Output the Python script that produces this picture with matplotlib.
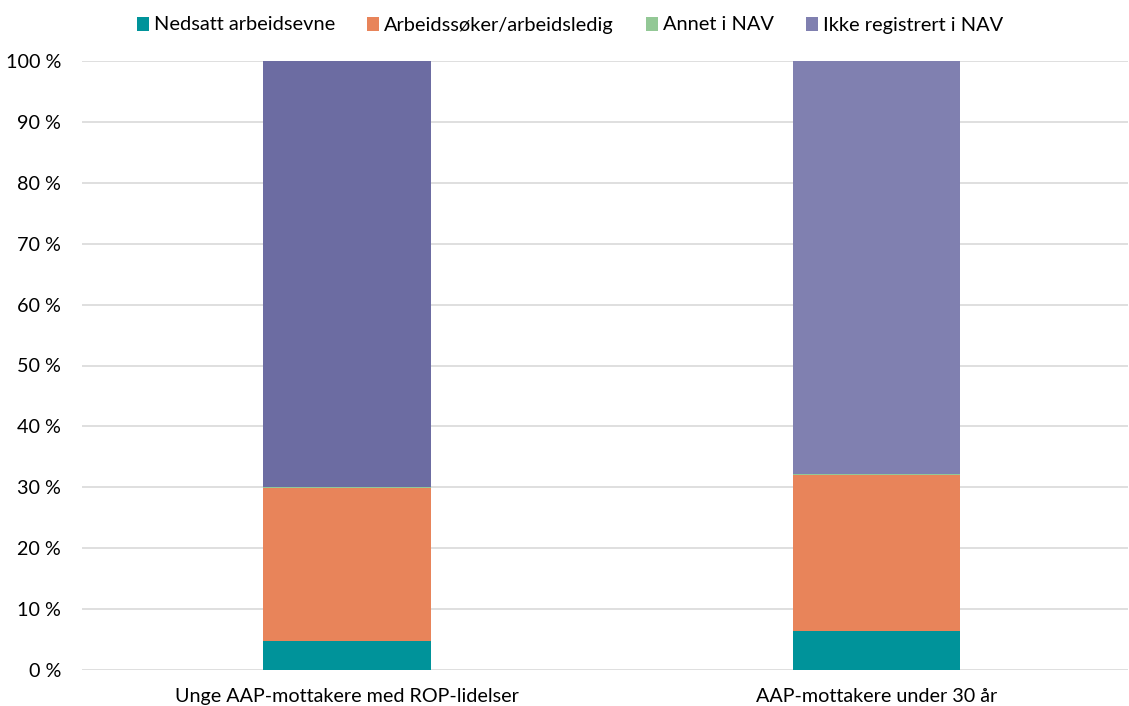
import matplotlib
matplotlib.use("Agg")
import matplotlib.pyplot as plt
import numpy as np

categories = ["Unge AAP-mottakere med ROP-lidelser", "AAP-mottakere under 30 år"]
series_names = ["Nedsatt arbeidsevne", "Arbeidssøker/arbeidsledig", "Annet i NAV", "Ikke registrert i NAV"]
nedsatt = [4.7, 6.4]
arbeidssoker = [25.2, 25.6]
annet = [0.2, 0.25]
ikke_reg = [69.9, 67.75]
yticks = [0, 10, 20, 30, 40, 50, 60, 70, 80, 90, 100]

colors = ["#00939A", "#E8845A", "#93C896", "#8080B0"]
ikke_bar_colors = ["#6C6CA2", "#8080B0"]

plt.rcParams['font.family'] = ['Lato', 'DejaVu Sans']

fig = plt.figure(figsize=(11.29, 7.06), dpi=100)
ax = fig.add_axes([82/1129, 36/706, (1128-82)/1129, (670-61)/706])

x = np.arange(len(categories))
w = 0.316
bottom = np.zeros(len(categories))
data = [nedsatt, arbeidssoker, annet, ikke_reg]
for i, (name, vals) in enumerate(zip(series_names, data)):
    c = ikke_bar_colors if i == 3 else colors[i]
    ax.bar(x, vals, w, bottom=bottom, color=c, label=name, zorder=3, linewidth=0)
    bottom += np.array(vals)

ax.set_xlim(-0.501, 1.476)
ax.set_ylim(0, 100)
ax.set_yticks(yticks)
ax.set_yticklabels([f"{v} %" for v in yticks])
ax.set_xticks(x)
ax.set_xticklabels(categories)
ax.tick_params(axis='both', length=0, labelsize=14.2, colors="#000000")
ax.tick_params(axis='x', pad=13)
ax.tick_params(axis='y', pad=15)
ax.grid(axis='y', color="#D9D9D9", linewidth=1.2, zorder=0)
for s in ax.spines.values():
    s.set_visible(False)

from matplotlib.patches import Patch
handles = [Patch(facecolor=c, edgecolor='none') for c in colors]
fig.legend(handles, series_names, loc='center', bbox_to_anchor=(0.505, 1 - 25/706), ncol=4,
           frameon=False, fontsize=14.4, handlelength=0.6, handleheight=0.7,
           handletextpad=0.25, columnspacing=1.6)

fig.savefig("out.png", dpi=100)
